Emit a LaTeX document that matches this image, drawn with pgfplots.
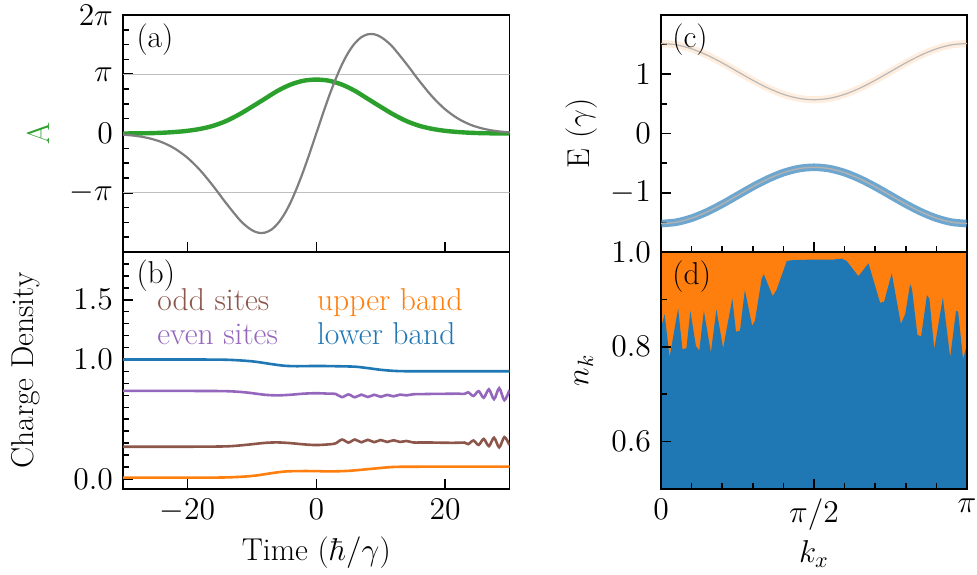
\RequirePackage{fix-cm}
\documentclass[border=0pt]{standalone}
\usepackage{pgfplots}
\pgfplotsset{compat=1.18}
\definecolor{tabblue}{HTML}{1F77B4}
\definecolor{taborange}{HTML}{FF7F0E}
\definecolor{tabgreen}{HTML}{2CA02C}
\definecolor{tabpurple}{HTML}{9467BD}
\definecolor{tabbrown}{HTML}{8C564B}
\definecolor{tabgray}{HTML}{7F7F7F}

\pgfplotsset{panel/.style={scale only axis, height=118.5pt, anchor=south west,
  axis line style={line width=0.9pt}, every tick/.style={black, line width=0.75pt},
  major tick length=5pt, minor tick length=2.8pt, tick align=inside, tick pos=left,
  yticklabel style={xshift=-1.5pt}, xticklabel style={yshift=-1.5pt}}}
\tikzset{plab/.style={anchor=north west, inner sep=0pt}}

\begin{document}
\begin{tikzpicture}[font=\fontsize{15.8}{18}\selectfont]
\useasboundingbox (0,0) rectangle (488.5pt,287pt);

% (a) vector potential (units of pi)
\begin{axis}[panel, width=193.25pt, at={(61.5pt,161pt)},
  xmin=-30, xmax=30, ymin=-2, ymax=2,
  xtick={-20,0,20}, xticklabels={},
  ytick={-1,0,1,2}, yticklabels={$-\pi$,$0$,$\pi$,$2\pi$},
  minor ytick={-1.75,-1.5,-1.25,-0.75,-0.5,-0.25,0.25,0.5,0.75,1.25,1.5,1.75},
  ylabel={A},
  every axis y label/.style={at={(axis description cs:-0.22,0.5)}, rotate=90, anchor=center, text=tabgreen}]
\addplot[black!25, line width=0.6pt] coordinates {(-30,1) (30,1)};
\addplot[black!25, line width=0.6pt] coordinates {(-30,-1) (30,-1)};
\addplot[tabgreen, line width=2.2pt, smooth] coordinates {
 (-30,0.0) (-28,0.002) (-26,0.005) (-24,0.012) (-22,0.025) (-20,0.045) (-18,0.078) (-16,0.13)
 (-14,0.21) (-12,0.32) (-10,0.45) (-8,0.585) (-6,0.72) (-4,0.825) (-2,0.89) (0,0.91)
 (2,0.89) (4,0.825) (6,0.72) (8,0.585) (10,0.45) (12,0.32) (14,0.21) (16,0.13)
 (18,0.078) (20,0.045) (22,0.025) (24,0.012) (26,0.005) (28,0.002) (30,0.0)};
\addplot[tabgray, line width=1.1pt, smooth] coordinates {
 (-30,-0.019) (-28,-0.040) (-26,-0.079) (-24,-0.145) (-22,-0.252) (-20,-0.409) (-18,-0.623)
 (-16,-0.887) (-14,-1.175) (-12,-1.444) (-11,-1.551) (-10,-1.631) (-9,-1.675) (-8,-1.674)
 (-7,-1.625) (-6,-1.524) (-5,-1.370) (-4,-1.167) (-3,-0.916) (-2,-0.634) (-1,-0.324) (0,0)
 (1,0.324) (2,0.634) (3,0.916) (4,1.167) (5,1.370) (6,1.524) (7,1.625) (8,1.674) (9,1.675)
 (10,1.631) (11,1.551) (12,1.444) (14,1.175) (16,0.887) (18,0.623) (20,0.409) (22,0.252)
 (24,0.145) (26,0.079) (28,0.040) (30,0.019)};
\node[plab] at (axis description cs:0.034,0.966) {(a)};
\end{axis}

% (b) charge density
\begin{axis}[panel, width=193.25pt, at={(61.5pt,42.5pt)},
  xmin=-30, xmax=30, ymin=-0.084, ymax=1.9,
  xtick={-20,0,20},
  ytick={0,1,1.5}, yticklabels={$0.0$,$1.0$,$1.5$},
  minor ytick={0.1,0.2,0.3,0.4,0.5,0.6,0.7,0.8,0.9,1.1,1.2,1.3,1.4,1.6,1.7,1.8},
  xlabel={Time ($\hbar/\gamma$)}, ylabel={Charge Density},
  every axis x label/.style={at={(axis description cs:0.5,-0.27)}, anchor=center},
  every axis y label/.style={at={(axis description cs:-0.251,0.5)}, rotate=90, anchor=center}]
\addplot[tabblue, line width=1.3pt, smooth] coordinates {
 (-30,1.0) (-20,1.0) (-14,0.998) (-10,0.985) (-7,0.962) (-5,0.948) (-3,0.944) (0,0.946)
 (3,0.944) (6,0.94) (8,0.928) (10,0.914) (12,0.905) (14,0.902) (20,0.902) (30,0.902)};
\addplot[taborange, line width=1.3pt, smooth] coordinates {
 (-30,0.011) (-20,0.011) (-14,0.013) (-10,0.025) (-7,0.048) (-5,0.062) (-3,0.066) (0,0.066)
 (2,0.063) (5,0.068) (8,0.082) (11,0.097) (13,0.102) (20,0.103) (30,0.103)};
\addplot[tabpurple, line width=1.3pt, smooth] coordinates {
 (-30,0.737) (-20,0.737) (-14,0.735) (-11,0.725) (-8,0.705) (-6,0.700) (-4,0.705) (-2,0.714)
 (0,0.718) (2,0.714) (3,0.712) (4,0.685) (5,0.708) (6,0.684) (7,0.706) (8,0.686) (9,0.705)
 (10,0.688) (11,0.704) (12,0.692) (13,0.706) (14,0.700) (15,0.709) (16,0.710) (18,0.712)
 (20,0.713) (22,0.714) (23,0.712) (23.6,0.725) (24.4,0.695) (25.2,0.735) (26,0.680)
 (26.8,0.750) (27.6,0.668) (28.4,0.760) (29.2,0.660) (30,0.745)};
\addplot[tabbrown, line width=1.3pt, smooth] coordinates {
 (-30,0.27) (-20,0.27) (-14,0.273) (-11,0.285) (-8,0.302) (-6,0.306) (-4,0.300) (-2,0.290)
 (0,0.284) (2,0.290) (3,0.298) (4,0.330) (5,0.305) (6,0.330) (7,0.307) (8,0.328) (9,0.308)
 (10,0.326) (11,0.310) (12,0.324) (13,0.310) (14,0.318) (15,0.306) (16,0.305) (18,0.305)
 (20,0.303) (22,0.303) (23,0.305) (23.6,0.292) (24.4,0.322) (25.2,0.285) (26,0.335)
 (26.8,0.275) (27.6,0.345) (28.4,0.265) (29.2,0.350) (30,0.285)};
\node[plab] at (axis description cs:0.034,0.968) {(b)};
\node[anchor=base west, inner sep=0pt, text=tabbrown] at (axis description cs:0.088,0.755) {odd sites};
\node[anchor=base west, inner sep=0pt, text=tabpurple] at (axis description cs:0.088,0.609) {even sites};
\node[anchor=base west, inner sep=0pt, text=taborange] at (axis description cs:0.501,0.755) {upper band};
\node[anchor=base west, inner sep=0pt, text=tabblue] at (axis description cs:0.501,0.609) {lower band};
\end{axis}

% (c) bands (x in units of pi)
\begin{axis}[panel, width=153pt, at={(330.5pt,161pt)},
  xmin=0, xmax=1, ymin=-2, ymax=2,
  xtick={0,0.5,1}, xticklabels={},
  minor xtick={0.1,0.2,0.3,0.4,0.6,0.7,0.8,0.9},
  ytick={-1,0,1}, minor ytick={-1.5,-0.5,0.5,1.5},
  ylabel={E ($\gamma$)},
  every axis y label/.style={at={(axis description cs:-0.261,0.5)}, rotate=90, anchor=center}]
\addplot[taborange, opacity=0.14, line width=3.5pt, smooth] coordinates {
 (0,1.520) (0.05,1.497) (0.1,1.429) (0.15,1.324) (0.2,1.192) (0.25,1.045) (0.3,0.898)
 (0.35,0.766) (0.4,0.661) (0.45,0.593) (0.5,0.570) (0.55,0.593) (0.6,0.661) (0.65,0.766)
 (0.7,0.898) (0.75,1.045) (0.8,1.192) (0.85,1.324) (0.9,1.429) (0.95,1.497) (1,1.520)};
\addplot[black!28, line width=0.6pt, smooth] coordinates {
 (0,1.520) (0.05,1.497) (0.1,1.429) (0.15,1.324) (0.2,1.192) (0.25,1.045) (0.3,0.898)
 (0.35,0.766) (0.4,0.661) (0.45,0.593) (0.5,0.570) (0.55,0.593) (0.6,0.661) (0.65,0.766)
 (0.7,0.898) (0.75,1.045) (0.8,1.192) (0.85,1.324) (0.9,1.429) (0.95,1.497) (1,1.520)};
\addplot[tabblue, opacity=0.65, line width=3.8pt, smooth] coordinates {
 (0,-1.520) (0.05,-1.497) (0.1,-1.429) (0.15,-1.324) (0.2,-1.192) (0.25,-1.045) (0.3,-0.898)
 (0.35,-0.766) (0.4,-0.661) (0.45,-0.593) (0.5,-0.570) (0.55,-0.593) (0.6,-0.661) (0.65,-0.766)
 (0.7,-0.898) (0.75,-1.045) (0.8,-1.192) (0.85,-1.324) (0.9,-1.429) (0.95,-1.497) (1,-1.520)};
\addplot[black!30, line width=0.7pt, smooth] coordinates {
 (0,-1.520) (0.05,-1.497) (0.1,-1.429) (0.15,-1.324) (0.2,-1.192) (0.25,-1.045) (0.3,-0.898)
 (0.35,-0.766) (0.4,-0.661) (0.45,-0.593) (0.5,-0.570) (0.55,-0.593) (0.6,-0.661) (0.65,-0.766)
 (0.7,-0.898) (0.75,-1.045) (0.8,-1.192) (0.85,-1.324) (0.9,-1.429) (0.95,-1.497) (1,-1.520)};
\node[plab] at (axis description cs:0.036,0.966) {(c)};
\end{axis}

% (d) occupation n_k
\begin{axis}[panel, width=153pt, at={(330.5pt,42.5pt)}, axis on top,
  xmin=0, xmax=1, ymin=0.5, ymax=1.0,
  xtick={0,0.5,1}, xticklabels={$0$,$\pi/2$,$\pi$},
  minor xtick={0.1,0.2,0.3,0.4,0.6,0.7,0.8,0.9},
  ytick={0.6,0.8,1.0}, yticklabels={$0.6$,$0.8$,$1.0$}, minor ytick={0.7,0.9},
  xlabel={$k_x$}, ylabel={$n_k$},
  every axis x label/.style={at={(axis description cs:0.5,-0.274)}, anchor=center},
  every axis y label/.style={at={(axis description cs:-0.252,0.5)}, rotate=90, anchor=center}]
\addplot[fill=taborange, draw=none] coordinates {(0,1) (1,1)} \closedcycle;
\addplot[fill=tabblue, draw=none] coordinates {
 (0,0.840) (0.012,0.869) (0.028,0.778) (0.056,0.881) (0.070,0.795) (0.083,0.797) (0.096,0.876)
 (0.114,0.802) (0.125,0.792) (0.140,0.876) (0.163,0.788) (0.181,0.879) (0.203,0.797)
 (0.233,0.902) (0.245,0.832) (0.258,0.834) (0.274,0.920) (0.298,0.844) (0.307,0.855)
 (0.329,0.944) (0.336,0.953) (0.365,0.907) (0.378,0.921) (0.411,0.981) (0.432,0.983)
 (0.498,0.984) (0.563,0.984) (0.591,0.986) (0.607,0.981) (0.645,0.949) (0.678,0.976)
 (0.716,0.893) (0.729,0.895) (0.754,0.955) (0.784,0.848) (0.798,0.869) (0.814,0.932)
 (0.820,0.923) (0.838,0.825) (0.850,0.822) (0.869,0.909) (0.877,0.902) (0.893,0.795)
 (0.921,0.904) (0.945,0.778) (0.964,0.876) (0.971,0.874) (0.987,0.774) (1.000,0.806)} \closedcycle;
\node[plab] at (axis description cs:0.036,0.966) {(d)};
\end{axis}
\end{tikzpicture}
\end{document}
